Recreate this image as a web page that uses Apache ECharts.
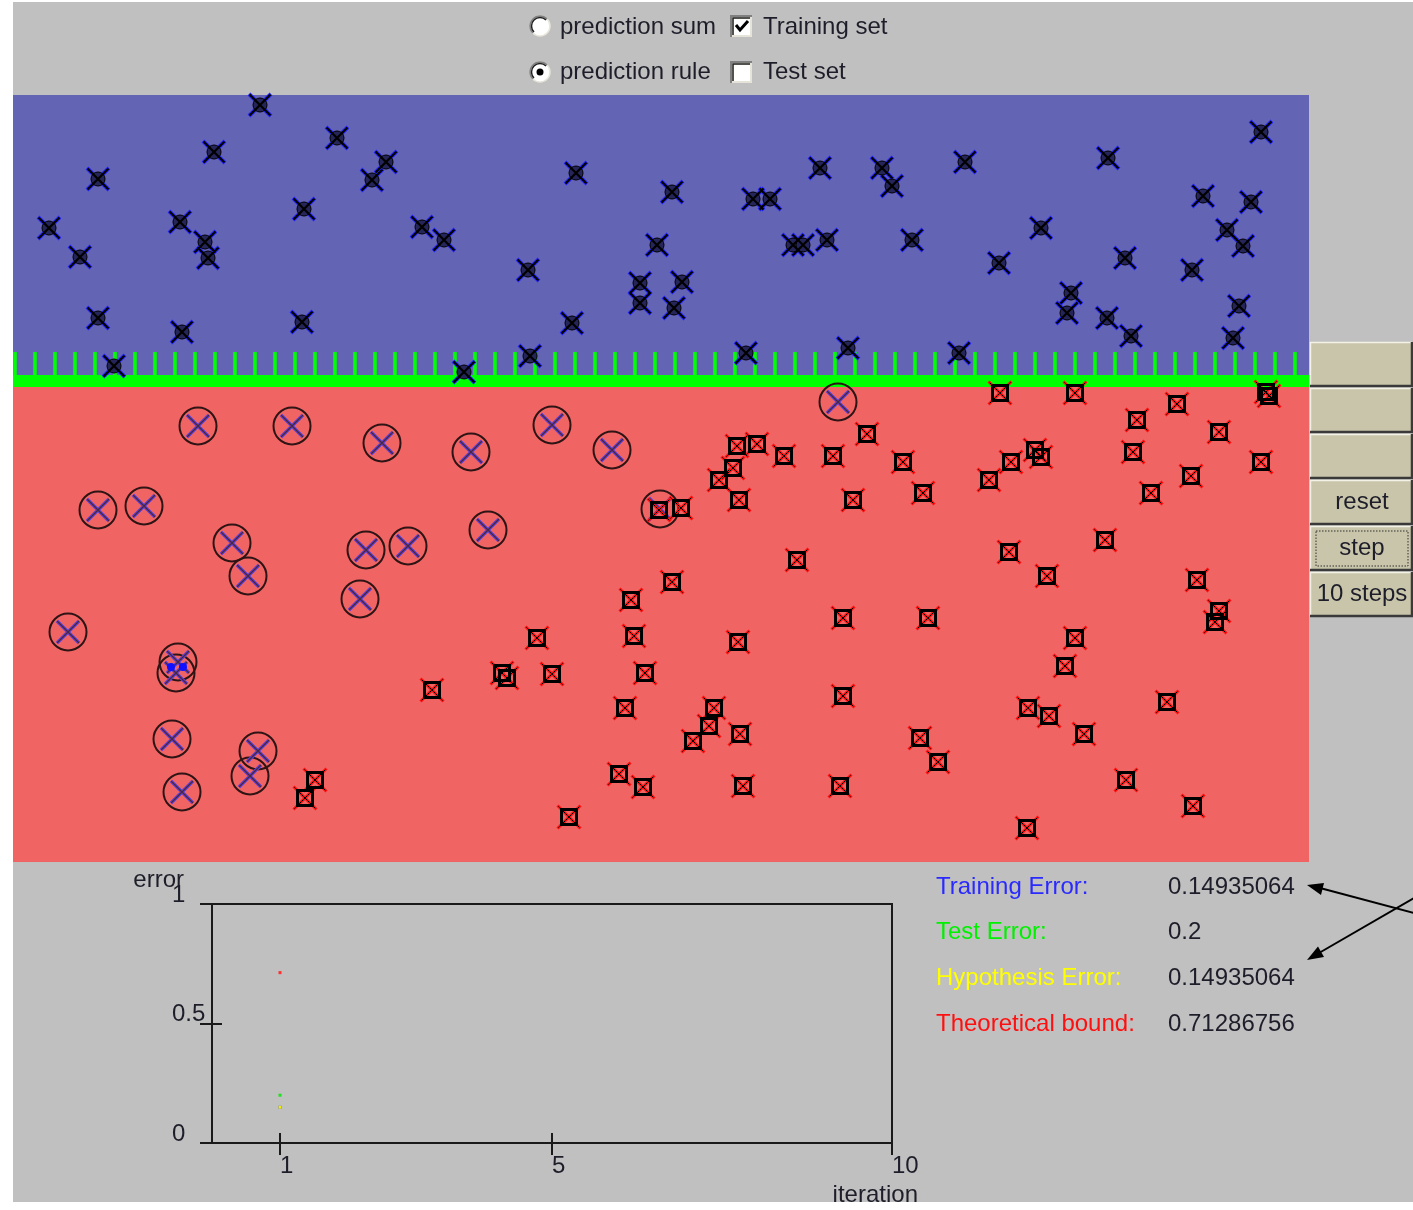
<!DOCTYPE html>
<html><head><meta charset="utf-8">
<script src="https://cdn.jsdelivr.net/npm/echarts@6/dist/echarts.min.js"></script>
<style>
html,body{margin:0;padding:0;background:#ffffff;overflow:hidden;}
#panel{position:absolute;left:13px;top:2px;width:1400px;height:1200px;background:#c0c0c0;}
#chart{position:absolute;left:0;top:0;width:1413px;height:1210px;}
</style></head><body>
<div id="panel"></div><div id="chart"></div>
<script>
// ---------- data (feature space units) ----------
const blueTraining = [
 [24.7,75.7],[32.4,72.4],[20.1,71.0],[37.3,70.0],[35.9,68.2],[8.5,68.3],[56.3,68.9],[29.1,65.3],
 [3.6,63.4],[16.7,64.0],[19.2,62.0],[19.5,60.4],[6.7,60.5],[40.9,63.5],[43.1,62.2],[51.5,59.2],
 [64.4,61.7],[62.7,57.9],[62.7,55.9],[8.5,54.4],[16.9,53.0],[28.9,54.0],[55.9,53.9],[10.1,49.6],
 [45.1,49.0],[51.7,50.6],[124.8,73.0],[80.7,69.4],[86.9,69.4],[87.9,67.6],[95.2,70.0],[109.5,70.4],
 [65.9,67.0],[74.0,66.3],[75.7,66.3],[119.0,66.6],[123.8,66.0],[78.0,61.7],[79.0,61.7],[81.4,62.2],
 [89.9,62.2],[102.8,63.4],[98.6,59.9],[111.2,60.4],[117.9,59.2],[121.4,63.2],[123.0,61.6],[66.9,58.0],
 [66.1,55.4],[105.8,56.9],[105.4,54.9],[109.4,54.4],[111.8,52.6],[122.6,55.6],[122.0,52.4],[73.3,50.9],
 [83.5,51.4],[94.6,50.9]
];
const redTraining = [
 [61.8,26.2],[52.4,22.4],[62.1,22.6],[48.9,18.9],[49.4,18.4],[53.9,18.8],[63.2,18.9],[41.9,17.2],
 [61.2,15.4],[60.6,8.8],[63.0,7.5],[55.6,4.5],[30.2,8.2],[29.2,6.4],[64.6,35.2],[98.7,46.9],
 [106.2,46.9],[125.3,47.0],[125.6,46.6],[116.4,45.8],[112.4,44.2],[120.6,43.0],[85.4,42.8],[72.4,41.6],
 [74.4,41.8],[77.1,40.6],[82.0,40.6],[89.0,40.0],[102.2,41.2],[102.8,40.5],[99.8,40.0],[112.0,41.0],
 [124.8,40.0],[72.0,39.4],[70.6,38.2],[97.6,38.2],[117.8,38.6],[113.8,36.9],[91.0,36.9],[72.6,36.2],
 [84.0,36.2],[66.8,35.4],[109.2,32.2],[99.6,31.0],[78.4,30.2],[103.4,28.6],[118.4,28.2],[65.9,28.0],
 [120.6,25.1],[120.2,24.0],[83.0,24.4],[91.5,24.4],[72.5,22.0],[106.2,22.4],[105.2,19.6],[83.0,16.6],
 [70.1,15.4],[69.6,13.6],[68.0,12.1],[72.7,12.8],[101.5,15.4],[103.6,14.6],[107.1,12.8],[115.4,16.0],
 [90.7,12.4],[92.5,10.0],[111.3,8.2],[73.0,7.6],[82.7,7.6],[118.0,5.6],[101.4,3.4]
];
const misclassified = [
 [18.5,43.6],[27.9,43.6],[36.9,41.9],[45.8,41.0],[53.9,43.7],[59.9,41.2],[8.5,35.2],[13.1,35.6],
 [21.9,31.9],[23.5,28.6],[35.3,31.2],[39.5,31.6],[47.5,33.2],[34.7,26.3],[5.5,23.0],[16.5,20.0],
 [16.3,18.9],[15.9,12.3],[24.5,11.1],[23.7,8.6],[16.9,7.0],[64.7,35.3],[82.5,46.0]
];
const markedPoints = [[15.8,19.5],[17.0,19.5]];
const threshold = 48.1;
const featureMaxX = 129.6;
const featureMaxY = 76.7;

const iterations = [1];
const trainingError = [0.14935064];
const testError = [0.2];
const hypothesisError = [0.14935064];
const theoreticalBound = [0.71286756];
const iterationTicks = [1, 5, 10];
const iterationInnerTicks = [1, 5];

const statLabels = ['Training Error:', 'Test Error:', 'Hypothesis Error:', 'Theoretical bound:'];
const statValues = ['0.14935064', '0.2', '0.14935064', '0.71286756'];
const statColors = ['#2a2aff', '#00f000', '#ffff00', '#ff1010'];
const buttonLabels = ['', '', '', 'reset', 'step', '10 steps'];

// ---------- rendering ----------
const FONT = "'Liberation Sans', Arial, sans-serif";
const TXT = '#1e1e2a';
const X_PATH = 'path://M0,0L10,10M10,0L0,10';
const SQ_PATH = 'path://M0,0L10,0L10,10L0,10Z';

function layer(name, data, symbol, size, stroke, width, fill, z, offset) {
  return {
    type: 'scatter', name, data, symbol, symbolSize: size, symbolOffset: offset || [0, 0],
    xAxisIndex: 0, yAxisIndex: 0, silent: true, z, animation: false,
    itemStyle: { color: fill || 'rgba(0,0,0,0)', borderColor: stroke || 'rgba(0,0,0,0)', borderWidth: width || 0, opacity: 1 },
    emphasis: { disabled: true }
  };
}
function errDot(name, vals, color) {
  return { type: 'scatter', name, xAxisIndex: 1, yAxisIndex: 1, silent: true, z: 5,
    data: iterations.map((it, i) => [it, vals[i]]), symbol: 'rect', symbolSize: 3,
    itemStyle: { color, opacity: 1 } };
}

const graphics = [];
function text(x, y, s, color, align) {
  graphics.push({ type: 'text', x, y, silent: true, z: 50,
    style: { text: s, fill: color || TXT, font: '24px ' + FONT, align: align || 'left', verticalAlign: 'middle' } });
}
function radio(cx, cy, checked) {
  graphics.push({ type: 'circle', silent: true, z: 50, shape: { cx, cy, r: 10 }, style: { fill: '#ffffff', stroke: '#e8e6da', lineWidth: 1.5 } });
  graphics.push({ type: 'arc', silent: true, z: 51, shape: { cx, cy, r: 10, startAngle: Math.PI * 0.75, endAngle: Math.PI * 1.75, clockwise: true }, style: { stroke: '#808080', lineWidth: 1.5, fill: null } });
  graphics.push({ type: 'arc', silent: true, z: 51, shape: { cx, cy, r: 8.5, startAngle: Math.PI * 0.75, endAngle: Math.PI * 1.75, clockwise: true }, style: { stroke: '#202020', lineWidth: 1.5, fill: null } });
  if (checked) graphics.push({ type: 'circle', silent: true, z: 52, shape: { cx, cy, r: 3.5 }, style: { fill: '#000' } });
}
function checkbox(x, y, checked) {
  graphics.push({ type: 'rect', silent: true, z: 50, shape: { x, y, width: 22, height: 22 }, style: { fill: '#e6e4d8' } });
  graphics.push({ type: 'polyline', silent: true, z: 51, shape: { points: [[x + 1, y + 22], [x + 1, y + 1], [x + 22, y + 1]] }, style: { stroke: '#808080', lineWidth: 2, fill: null } });
  graphics.push({ type: 'polyline', silent: true, z: 51, shape: { points: [[x + 3, y + 20], [x + 3, y + 3], [x + 20, y + 3]] }, style: { stroke: '#202020', lineWidth: 1.5, fill: null } });
  graphics.push({ type: 'rect', silent: true, z: 51, shape: { x: x + 4, y: y + 4, width: 16, height: 16 }, style: { fill: '#ffffff' } });
  if (checked) graphics.push({ type: 'polyline', silent: true, z: 52, shape: { points: [[x + 6, y + 10], [x + 10, y + 15], [x + 18, y + 6]] }, style: { stroke: '#000', lineWidth: 3, fill: null } });
}
radio(540, 26, false); text(560, 27, 'prediction sum');
checkbox(730, 15, true); text(763, 27, 'Training set');
radio(540, 72, true); text(560, 72, 'prediction rule');
checkbox(730, 61, false); text(763, 72, 'Test set');

buttonLabels.forEach((lab, i) => {
  const top = 342 + 46 * i;
  const ch = [
    { type: 'rect', shape: { x: 0, y: 0, width: 103, height: 44 }, style: { fill: '#c9c5aa' } },
    { type: 'polyline', shape: { points: [[0.5, 44], [0.5, 0.5], [102, 0.5]] }, style: { stroke: '#f4f2e6', lineWidth: 1.5, fill: null } },
    { type: 'polyline', shape: { points: [[0, 44], [102, 44], [102, 0]] }, style: { stroke: '#3a3a3a', lineWidth: 2.5, fill: null } }
  ];
  if (lab) ch.push({ type: 'text', x: 52, y: 22, style: { text: lab, fill: TXT, font: '24px ' + FONT, align: 'center', verticalAlign: 'middle' } });
  if (lab === 'step') ch.push({ type: 'rect', shape: { x: 6, y: 5, width: 92, height: 35 }, style: { fill: null, stroke: '#303030', lineWidth: 1, lineDash: [1.5, 1.5] } });
  graphics.push({ type: 'group', x: 1310, y: top, silent: true, z: 50, children: ch });
});

statLabels.forEach((lab, i) => {
  const y = 887 + 45.7 * i;
  text(936, y, lab, statColors[i]);
  text(1168, y, statValues[i], TXT);
});

// annotation arrows
graphics.push({ type: 'line', silent: true, z: 50, shape: { x1: 1414, y1: 913, x2: 1320, y2: 888 }, style: { stroke: '#000', lineWidth: 2 } });
graphics.push({ type: 'polygon', silent: true, z: 50, shape: { points: [[1307, 885], [1324, 883], [1321, 895]] }, style: { fill: '#000' } });
graphics.push({ type: 'line', silent: true, z: 50, shape: { x1: 1414, y1: 898, x2: 1319, y2: 953 }, style: { stroke: '#000', lineWidth: 2 } });
graphics.push({ type: 'polygon', silent: true, z: 50, shape: { points: [[1307, 960], [1324, 957], [1318, 946.5]] }, style: { fill: '#000' } });

const axisTxt = { fontSize: 24, fontFamily: FONT, color: TXT };
const dark = '#1a1a1a';

const option = {
  animation: false,
  backgroundColor: 'transparent',
  grid: [
    { left: 13, top: 95, width: 1296, height: 767, outerBoundsMode: 'none' },
    { left: 212, top: 904, width: 680, height: 239, show: true, borderColor: dark, borderWidth: 2, backgroundColor: 'transparent', outerBoundsMode: 'none' },
    { left: 15, top: 352, width: 1280, height: 23, outerBoundsMode: 'none' }
  ],
  xAxis: [
    { gridIndex: 0, type: 'value', min: 0, max: featureMaxX, show: false },
    { gridIndex: 1, type: 'value', min: 0, max: 10, position: 'bottom',
      axisLine: { show: false }, splitLine: { show: false },
      axisTick: { show: true, customValues: iterationTicks, length: 12, lineStyle: { color: dark, width: 2 } },
      axisLabel: { show: true, customValues: iterationTicks, align: 'left', margin: 11, ...axisTxt },
      name: 'iteration', nameLocation: 'end', nameGap: 26, nameMoveOverlap: false,
      nameTextStyle: { ...axisTxt, align: 'right', verticalAlign: 'top', padding: [40, 0, 0, 0] } },
    { gridIndex: 2, type: 'value', min: 0, max: 64, interval: 1, z: 3,
      axisLine: { show: false }, splitLine: { show: false }, axisLabel: { show: false },
      axisTick: { show: true, inside: true, length: 23, lineStyle: { color: '#00ff00', width: 3.5 } } },
    { gridIndex: 1, type: 'value', min: 0, max: 10, position: 'bottom',
      axisLine: { show: false }, splitLine: { show: false }, axisLabel: { show: false },
      axisTick: { show: true, inside: true, customValues: iterationInnerTicks, length: 10, lineStyle: { color: dark, width: 2 } } }
  ],
  yAxis: [
    { gridIndex: 0, type: 'value', min: 0, max: featureMaxY, show: false },
    { gridIndex: 1, type: 'value', min: 0, max: 1, interval: 0.5, position: 'left',
      axisLine: { show: false }, splitLine: { show: false },
      axisTick: { show: true, length: 12, lineStyle: { color: dark, width: 2 } },
      axisLabel: { show: true, align: 'left', verticalAlign: 'bottom', lineHeight: 18, margin: 40, ...axisTxt },
      name: 'error', nameLocation: 'end', nameGap: 12, nameMoveOverlap: false,
      nameTextStyle: { ...axisTxt, align: 'right', verticalAlign: 'bottom', padding: [0, 28, 0, 0] } },
    { gridIndex: 2, type: 'value', min: 0, max: 1, show: false },
    { gridIndex: 1, type: 'value', min: 0, max: 1, position: 'left',
      axisLine: { show: false }, splitLine: { show: false }, axisLabel: { show: false },
      axisTick: { show: true, inside: true, customValues: [0.5], length: 10, lineStyle: { color: dark, width: 2 } } }
  ],
  graphic: { elements: graphics },
  series: [
    { type: 'line', name: 'regions', xAxisIndex: 0, yAxisIndex: 0, data: [], silent: true, z: 1,
      markArea: { silent: true, label: { show: false }, emphasis: { disabled: true }, data: [
        [{ yAxis: 0, itemStyle: { color: '#f06464', opacity: 1 } }, { yAxis: threshold }],
        [{ yAxis: threshold, itemStyle: { color: '#6464b4', opacity: 1 } }, { yAxis: featureMaxY }]
      ] } },
    { type: 'line', name: 'decision boundary', xAxisIndex: 0, yAxisIndex: 0, silent: true, z: 3,
      data: [[0, threshold], [featureMaxX, threshold]], symbol: 'none',
      lineStyle: { color: '#00ff00', width: 12 } },
    layer('misclassified ring', misclassified, 'circle', 37, '#2e1414', 2, null, 5),
    layer('misclassified x', misclassified, X_PATH, 22, '#6040dc', 3.5, null, 6),
    layer('misclassified x core', misclassified, X_PATH, 22, '#4a2630', 1.2, null, 7),
    layer('marked', markedPoints, 'circle', 8, null, 0, '#1010ff', 7.5),
    layer('positive x blue', blueTraining, X_PATH, 22, '#2424ff', 4, null, 8),
    layer('positive core', blueTraining, 'circle', 14, '#000', 1, '#25255a', 9),
    layer('positive x', blueTraining, X_PATH, 21, '#000', 2.2, null, 10),
    layer('negative x red', redTraining, X_PATH, 23, '#ff1010', 3, null, 11),
    layer('negative square', redTraining, SQ_PATH, 15, '#000', 3, null, 12),
    layer('negative x', redTraining, X_PATH, 21, '#000', 1, null, 13),
    errDot('Theoretical bound', theoreticalBound, '#ff3030'),
    errDot('Test Error', testError, '#20e020'),
    errDot('Training Error', trainingError, '#2a2aff'),
    errDot('Hypothesis Error', hypothesisError, '#f0f000')
  ]
};
const chart = echarts.init(document.getElementById('chart'), null, { renderer: 'canvas' });
chart.setOption(option);
</script>
</body></html>
